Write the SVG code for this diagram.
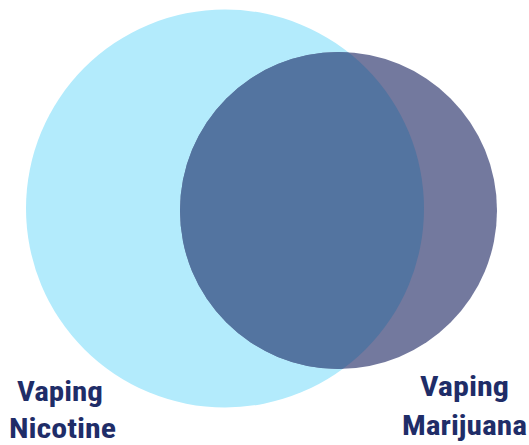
<svg xmlns="http://www.w3.org/2000/svg" width="529" height="445" viewBox="0 0 529 445">
<defs>
<style>
.lbl{font-family:"Roboto Condensed",Roboto,"Liberation Sans",sans-serif;font-weight:700;font-size:27.5px;fill:#1F2D68;}
</style>
<clipPath id="bigClip"><circle cx="225" cy="208.5" r="199"/></clipPath>
</defs>
<rect width="529" height="445" fill="#ffffff"/>
<g id="nicotine">
<circle cx="225" cy="208.5" r="199" fill="#B3EBFC"/>
</g>
<g id="marijuana">
<circle cx="338.5" cy="210.5" r="158.5" fill="#73799E"/>
</g>
<g id="overlap">
<circle cx="338.5" cy="210.5" r="158.5" fill="#5374A0" clip-path="url(#bigClip)"/>
</g>
<g id="labels">
<text class="lbl" x="17" y="401" textLength="86" lengthAdjust="spacingAndGlyphs">Vaping</text>
<text class="lbl" x="9" y="437.5" textLength="107" lengthAdjust="spacingAndGlyphs">Nicotine</text>
<text class="lbl" x="420" y="396" textLength="89" lengthAdjust="spacingAndGlyphs">Vaping</text>
<text class="lbl" x="402" y="434.5" textLength="125" lengthAdjust="spacingAndGlyphs">Marijuana</text>
</g>
</svg>
